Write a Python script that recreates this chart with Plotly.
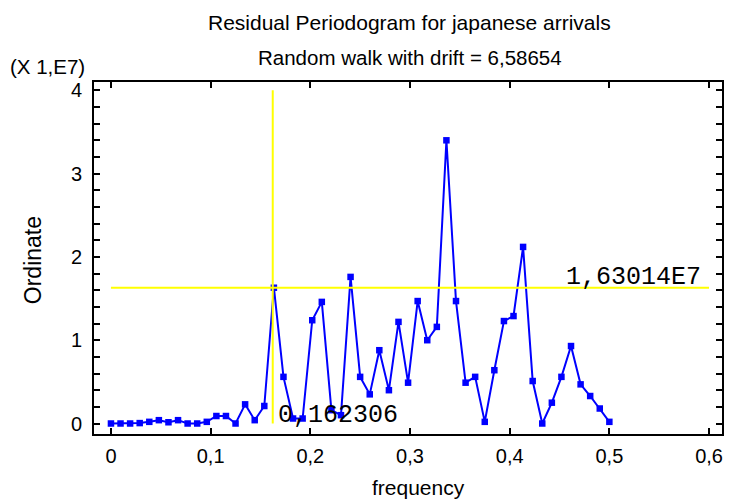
import plotly.graph_objects as go

# Periodogram ordinates of the residuals, in units of 1E7, at frequencies k/n
n_obs = 104
frequency = [k / n_obs for k in range(53)]
ordinate_e7 = [
    0.00, 0.00, 0.00, 0.005, 0.02, 0.04, 0.015, 0.04, 0.00, 0.00,
    0.02, 0.09, 0.09, 0.00, 0.23, 0.04, 0.21, 1.63014, 0.56, 0.06,
    0.06, 1.24, 1.46, 0.16, 0.10, 1.76, 0.56, 0.35, 0.88, 0.40,
    1.22, 0.49, 1.47, 1.00, 1.16, 3.40, 1.47, 0.49, 0.56, 0.02,
    0.64, 1.23, 1.29, 2.12, 0.51, 0.00, 0.25, 0.56, 0.93, 0.47,
    0.33, 0.18, 0.02,
]

# Crosshair cursor position
cursor_freq = 0.162306
cursor_ord_e7 = 1.63014

x_ticks = [0, 0.1, 0.2, 0.3, 0.4, 0.5, 0.6]
x_ticklabels = ["0", "0,1", "0,2", "0,3", "0,4", "0,5", "0,6"]
y_ticks = [0, 1, 2, 3, 4]
y_ticklabels = ["0", "1", "2", "3", "4"]

FONT = "Liberation Sans, Arial, sans-serif"
LCD = "Liberation Mono, DejaVu Sans Mono, monospace"

fig = go.Figure()
fig.add_trace(go.Scatter(
    x=frequency, y=ordinate_e7, mode="lines+markers",
    line=dict(color="#0000FF", width=2),
    marker=dict(symbol="square", size=6.5, color="#0000FF"),
    showlegend=False, hoverinfo="skip",
))
fig.add_trace(go.Scatter(
    x=[cursor_freq, cursor_freq], y=[0, 4], mode="lines",
    line=dict(color="#FFFF00", width=2), showlegend=False, hoverinfo="skip",
))
fig.add_trace(go.Scatter(
    x=[0, 0.6], y=[cursor_ord_e7, cursor_ord_e7], mode="lines",
    line=dict(color="#FFFF00", width=2), showlegend=False, hoverinfo="skip",
))

axis_common = dict(
    ticks="inside", ticklen=6, tickwidth=1.5, tickcolor="#000000",
    showline=True, linecolor="#000000", linewidth=2, mirror="ticks",
    showgrid=False, zeroline=False,
    tickfont=dict(family=FONT, size=20, color="#000000"),
)

fig.update_xaxes(
    range=[-0.017, 0.613], tickmode="array",
    tickvals=x_ticks, ticktext=x_ticklabels, ticklabelstandoff=3,
    **axis_common,
)
fig.update_yaxes(
    range=[-0.126, 4.1], tickmode="array",
    tickvals=y_ticks, ticktext=y_ticklabels, ticklabelstandoff=6,
    minor=dict(tick0=0, dtick=0.2, ticks="inside", ticklen=6,
               tickwidth=1.5, tickcolor="#000000"),
    **axis_common,
)

annotations = [
    dict(text="Residual Periodogram for japanese arrivals", xref="paper", yref="paper",
         x=0.503, y=1.17, xanchor="center", yanchor="middle", showarrow=False,
         font=dict(family=FONT, size=21, color="#000000")),
    dict(text="Random walk with drift = 6,58654", xref="paper", yref="paper",
         x=0.503, y=1.07, xanchor="center", yanchor="middle", showarrow=False,
         font=dict(family=FONT, size=20.5, color="#000000")),
    dict(text="(X 1,E7)", xref="paper", yref="paper",
         x=-0.137, y=1.043, xanchor="left", yanchor="middle", showarrow=False,
         font=dict(family=FONT, size=20.5, color="#000000")),
    dict(text="Ordinate", xref="paper", yref="paper",
         x=-0.097, y=0.494, xanchor="center", yanchor="middle", showarrow=False,
         textangle=-90, font=dict(family=FONT, size=23, color="#000000")),
    dict(text="frequency", xref="paper", yref="paper",
         x=0.5175, y=-0.153, xanchor="center", yanchor="middle", showarrow=False,
         font=dict(family=FONT, size=21, color="#000000")),
    dict(text="1,63014E7", xref="x", yref="y",
         x=0.594, y=cursor_ord_e7, yshift=-6, xanchor="right", yanchor="bottom",
         showarrow=False, font=dict(family=LCD, size=25, color="#000000")),
    dict(text="0,162306", xref="x", yref="y",
         x=0.1655, y=0, yshift=-8, xanchor="left", yanchor="bottom",
         showarrow=False, font=dict(family=LCD, size=25, color="#000000")),
]

fig.update_layout(
    width=729, height=500,
    margin=dict(l=94, r=5, t=82, b=66),
    paper_bgcolor="#FFFFFF", plot_bgcolor="#FFFFFF",
    annotations=annotations,
    showlegend=False,
)

fig.write_html("out.html")
